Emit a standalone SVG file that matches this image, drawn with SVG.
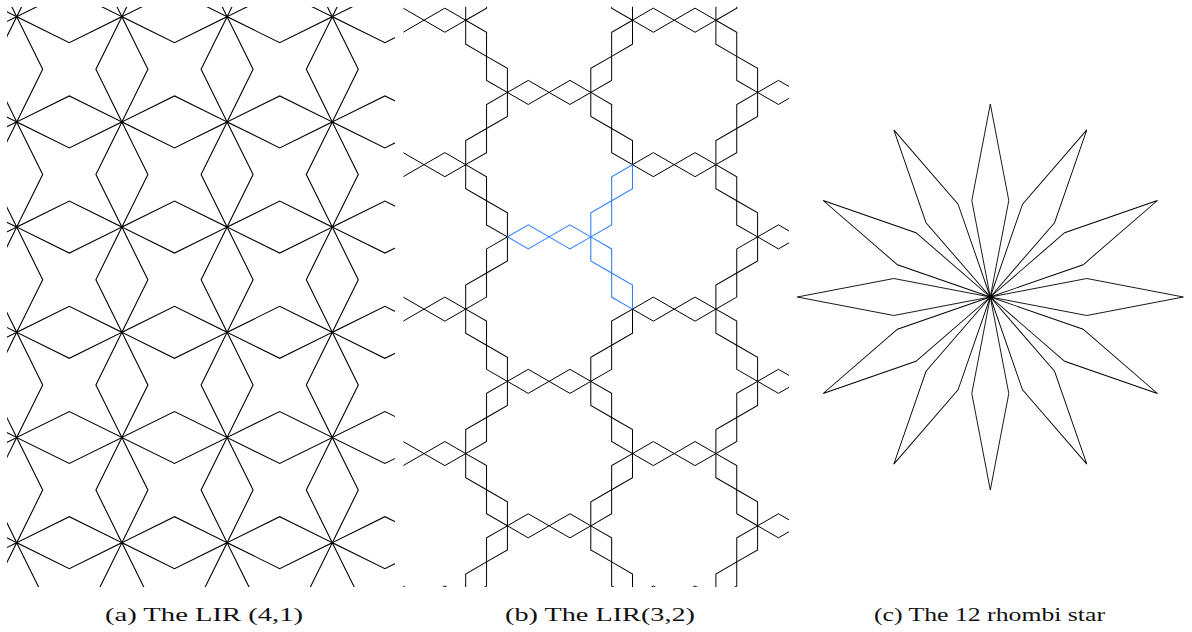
<svg xmlns="http://www.w3.org/2000/svg" xmlns:xlink="http://www.w3.org/1999/xlink" width="1192" height="632" viewBox="0 0 1192 632">
<style>
.ln{fill:none;stroke:#000;stroke-linejoin:miter}
.pa{stroke-width:1.1}
.pb{stroke-width:1}
.pc{stroke-width:0.9}
.blue{fill:none;stroke:#3380ff;stroke-width:1.1}
.cap{font-family:"Liberation Serif",serif;font-size:19.5px;fill:#111;text-anchor:middle}
</style>
<defs>
<clipPath id="clipA"><rect x="7" y="7" width="388" height="580"/></clipPath>
<clipPath id="clipB"><rect x="403.3" y="6.7" width="385.7" height="580.3"/></clipPath>
<g id="zz">
<polyline points="-88.5,0 -35.9,-26 16.7,0 69.3,-26 121.9,0 174.5,-26 227.1,0 279.7,-26 332.3,0 384.9,-26 437.5,0 490.1,-26 542.7,0 595.3,-26 647.9,0 700.5,-26 753.1,0"/>
<polyline points="-88.5,0 -35.9,26 16.7,0 69.3,26 121.9,0 174.5,26 227.1,0 279.7,26 332.3,0 384.9,26 437.5,0 490.1,26 542.7,0 595.3,26 647.9,0 700.5,26 753.1,0"/>
</g>
<g id="ch">
<polyline points="0,0 20.85,-12.04 41.7,0 62.55,12.04 83.4,0"/>
<polyline points="0,0 20.85,12.04 41.7,0 62.55,-12.04 83.4,0"/>
</g>
<g id="Y">
<use xlink:href="#ch" href="#ch" transform="rotate(180)"/>
<use xlink:href="#ch" href="#ch" transform="rotate(-60)"/>
<use xlink:href="#ch" href="#ch" transform="rotate(60)"/>
</g>
<polygon id="rh" points="0,0 96.5,-18.5 193,0 96.5,18.5"/>
</defs>
<rect width="1192" height="632" fill="#fff"/>

<g id="panel-a" class="ln pa" clip-path="url(#clipA)">
<use href="#zz" xlink:href="#zz" transform="translate(0,16.7)"/>
<use href="#zz" xlink:href="#zz" transform="translate(0,121.9)"/>
<use href="#zz" xlink:href="#zz" transform="translate(0,227.1)"/>
<use href="#zz" xlink:href="#zz" transform="translate(0,332.3)"/>
<use href="#zz" xlink:href="#zz" transform="translate(0,437.5)"/>
<use href="#zz" xlink:href="#zz" transform="translate(0,542.7)"/>
<use href="#zz" xlink:href="#zz" transform="translate(16.7,0) rotate(90)"/>
<use href="#zz" xlink:href="#zz" transform="translate(121.9,0) rotate(90)"/>
<use href="#zz" xlink:href="#zz" transform="translate(227.1,0) rotate(90)"/>
<use href="#zz" xlink:href="#zz" transform="translate(332.3,0) rotate(90)"/>
</g>

<g id="panel-b" clip-path="url(#clipB)">
<g class="ln pb">
<use href="#Y" xlink:href="#Y" transform="translate(465.7,20.2)"/>
<use href="#Y" xlink:href="#Y" transform="translate(465.7,164.66)"/>
<use href="#Y" xlink:href="#Y" transform="translate(465.7,309.12)"/>
<use href="#Y" xlink:href="#Y" transform="translate(465.7,453.58)"/>
<use href="#Y" xlink:href="#Y" transform="translate(465.7,598.04)"/>
<use href="#Y" xlink:href="#Y" transform="translate(590.8,-52.03)"/>
<use href="#Y" xlink:href="#Y" transform="translate(590.8,92.43)"/>
<use href="#Y" xlink:href="#Y" transform="translate(590.8,381.35)"/>
<use href="#Y" xlink:href="#Y" transform="translate(590.8,525.81)"/>
<use href="#Y" xlink:href="#Y" transform="translate(715.9,20.2)"/>
<use href="#Y" xlink:href="#Y" transform="translate(715.9,164.66)"/>
<use href="#Y" xlink:href="#Y" transform="translate(715.9,309.12)"/>
<use href="#Y" xlink:href="#Y" transform="translate(715.9,453.58)"/>
<use href="#Y" xlink:href="#Y" transform="translate(715.9,598.04)"/>
<use href="#Y" xlink:href="#Y" transform="translate(841,-52.03)"/>
<use href="#Y" xlink:href="#Y" transform="translate(841,92.43)"/>
<use href="#Y" xlink:href="#Y" transform="translate(841,236.89)"/>
<use href="#Y" xlink:href="#Y" transform="translate(841,381.35)"/>
<use href="#Y" xlink:href="#Y" transform="translate(841,525.81)"/>
</g>
<g id="motif" class="blue">
<use href="#Y" xlink:href="#Y" transform="translate(590.8,236.89)"/>
</g>
</g>

<g id="panel-c" class="ln pc" transform="translate(990.3,297)">
<use href="#rh" xlink:href="#rh" transform="rotate(0)"/>
<use href="#rh" xlink:href="#rh" transform="rotate(30)"/>
<use href="#rh" xlink:href="#rh" transform="rotate(60)"/>
<use href="#rh" xlink:href="#rh" transform="rotate(90)"/>
<use href="#rh" xlink:href="#rh" transform="rotate(120)"/>
<use href="#rh" xlink:href="#rh" transform="rotate(150)"/>
<use href="#rh" xlink:href="#rh" transform="rotate(180)"/>
<use href="#rh" xlink:href="#rh" transform="rotate(210)"/>
<use href="#rh" xlink:href="#rh" transform="rotate(240)"/>
<use href="#rh" xlink:href="#rh" transform="rotate(270)"/>
<use href="#rh" xlink:href="#rh" transform="rotate(300)"/>
<use href="#rh" xlink:href="#rh" transform="rotate(330)"/>
</g>

<g id="captions">
<text class="cap" x="204" y="621" textLength="198" lengthAdjust="spacingAndGlyphs">(a) The LIR (4,1)</text>
<text class="cap" x="600" y="621" textLength="190" lengthAdjust="spacingAndGlyphs">(b) The LIR(3,2)</text>
<text class="cap" x="989.5" y="621" textLength="231" lengthAdjust="spacingAndGlyphs">(c) The 12 rhombi star</text>
</g>
</svg>
